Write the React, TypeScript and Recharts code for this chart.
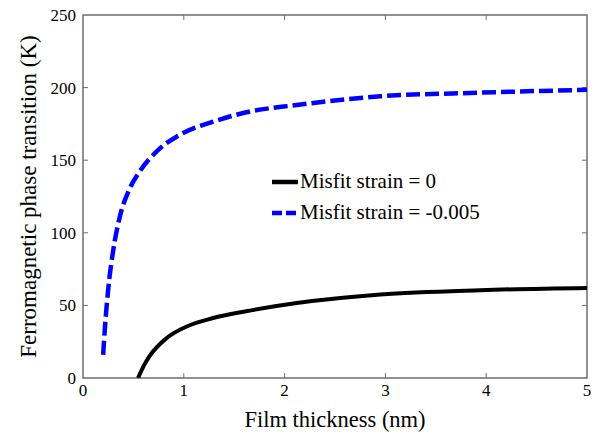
import React from "react";
import {
  LineChart,
  Line,
  XAxis,
  YAxis,
  Legend,
  ReferenceArea,
  ReferenceLine,
} from "recharts";

// values
const thicknessStrained = [0.2, 0.22, 0.25, 0.3, 0.365, 0.46, 0.56, 0.73, 0.96, 1.29, 1.62, 2.12, 2.95, 3.94, 5.0];
const tcStrained = [16, 37, 61, 88, 111, 130, 142, 156, 167.5, 176.5, 183, 188, 194, 196.5, 198.5];

const thicknessFree = [0.546, 0.6, 0.66, 0.83, 1.03, 1.29, 1.62, 2.12, 2.95, 3.94, 5.0];
const tcFree = [0, 8, 15, 27.5, 35.5, 41.3, 46, 51.6, 57.5, 60.5, 62];

const seriesNames = ["Misfit strain = 0", "Misfit strain = -0.005"];

const xTicks = [0, 1, 2, 3, 4, 5];
const yTicks = [0, 50, 100, 150, 200, 250];

const freeData = thicknessFree.map((x, i) => ({ x, y: tcFree[i] }));
const strainedData = thicknessStrained.map((x, i) => ({ x, y: tcStrained[i] }));

const FONT = "'Liberation Serif', 'Times New Roman', serif";
const FRAME = "#6e6e6e";

const renderLegend = (props: any) => {
  const items = [...(props.payload || [])].sort(
    (a: any, b: any) => seriesNames.indexOf(a.value) - seriesNames.indexOf(b.value)
  );
  return (
    <div style={{ fontFamily: FONT, fontSize: 21, color: "#000" }}>
      {items.map((entry: any) => (
        <div key={entry.value} style={{ display: "flex", alignItems: "center", height: 31 }}>
          <svg width={29} height={10}>
            <line
              x1={1}
              y1={5}
              x2={27}
              y2={5}
              stroke={entry.color}
              strokeWidth={4.5}
              strokeDasharray={entry.payload?.strokeDasharray ? "10 4" : undefined}
            />
          </svg>
          <span>{entry.value}</span>
        </div>
      ))}
    </div>
  );
};

export default function App() {
  return (
    <div style={{ position: "absolute", left: 0, top: 0, background: "#fff" }}>
      <LineChart width={597} height={436} margin={{ top: 15, right: 10, left: 0, bottom: 0 }}>
        <XAxis
          type="number"
          dataKey="x"
          domain={[0, 5]}
          ticks={xTicks}
          allowDataOverflow
          axisLine={false}
          tickLine={false}
          tickSize={4}
          tickMargin={2}
          height={58}
          tick={{ fill: "#000", fontSize: 17, fontFamily: FONT }}
          label={{
            value: "Film thickness (nm)",
            position: "insideBottom",
            offset: 9,
            style: { fill: "#000", fontSize: 22.5, fontFamily: FONT },
          }}
        />
        <YAxis
          type="number"
          domain={[0, 250]}
          ticks={yTicks}
          allowDataOverflow
          axisLine={false}
          tickLine={false}
          tickSize={4}
          tickMargin={3}
          width={83}
          tick={{ fill: "#000", fontSize: 17, fontFamily: FONT }}
          label={{
            value: "Ferromagnetic phase transition (K)",
            angle: -90,
            position: "insideLeft",
            offset: 28,
            style: { fill: "#000", fontSize: 23, fontFamily: FONT, textAnchor: "middle" },
          }}
        />
        <ReferenceArea x1={0} x2={5} y1={0} y2={250} fill="none" stroke={FRAME} strokeWidth={1.5} />
        {xTicks.slice(1, -1).map((t) => (
          <ReferenceLine key={"xb" + t} segment={[{ x: t, y: 0 }, { x: t, y: 3.4 }]} stroke={FRAME} />
        ))}
        {xTicks.slice(1, -1).map((t) => (
          <ReferenceLine key={"xt" + t} segment={[{ x: t, y: 250 }, { x: t, y: 246.6 }]} stroke={FRAME} />
        ))}
        {yTicks.slice(1, -1).map((t) => (
          <ReferenceLine key={"yl" + t} segment={[{ x: 0, y: t }, { x: 0.05, y: t }]} stroke={FRAME} />
        ))}
        {yTicks.slice(1, -1).map((t) => (
          <ReferenceLine key={"yr" + t} segment={[{ x: 5, y: t }, { x: 4.95, y: t }]} stroke={FRAME} />
        ))}
        <Legend
          layout="vertical"
          align="center"
          verticalAlign="middle"
          content={renderLegend}
          wrapperStyle={{ left: 271, top: 166, width: 280 }}
        />
        <Line
          data={freeData}
          dataKey="y"
          name={seriesNames[0]}
          type="monotone"
          stroke="#000000"
          strokeWidth={4}
          dot={false}
          isAnimationActive={false}
        />
        <Line
          data={strainedData}
          dataKey="y"
          name={seriesNames[1]}
          type="monotone"
          stroke="#0000ff"
          strokeWidth={4.5}
          strokeDasharray="14 5"
          dot={false}
          isAnimationActive={false}
        />
      </LineChart>
    </div>
  );
}
